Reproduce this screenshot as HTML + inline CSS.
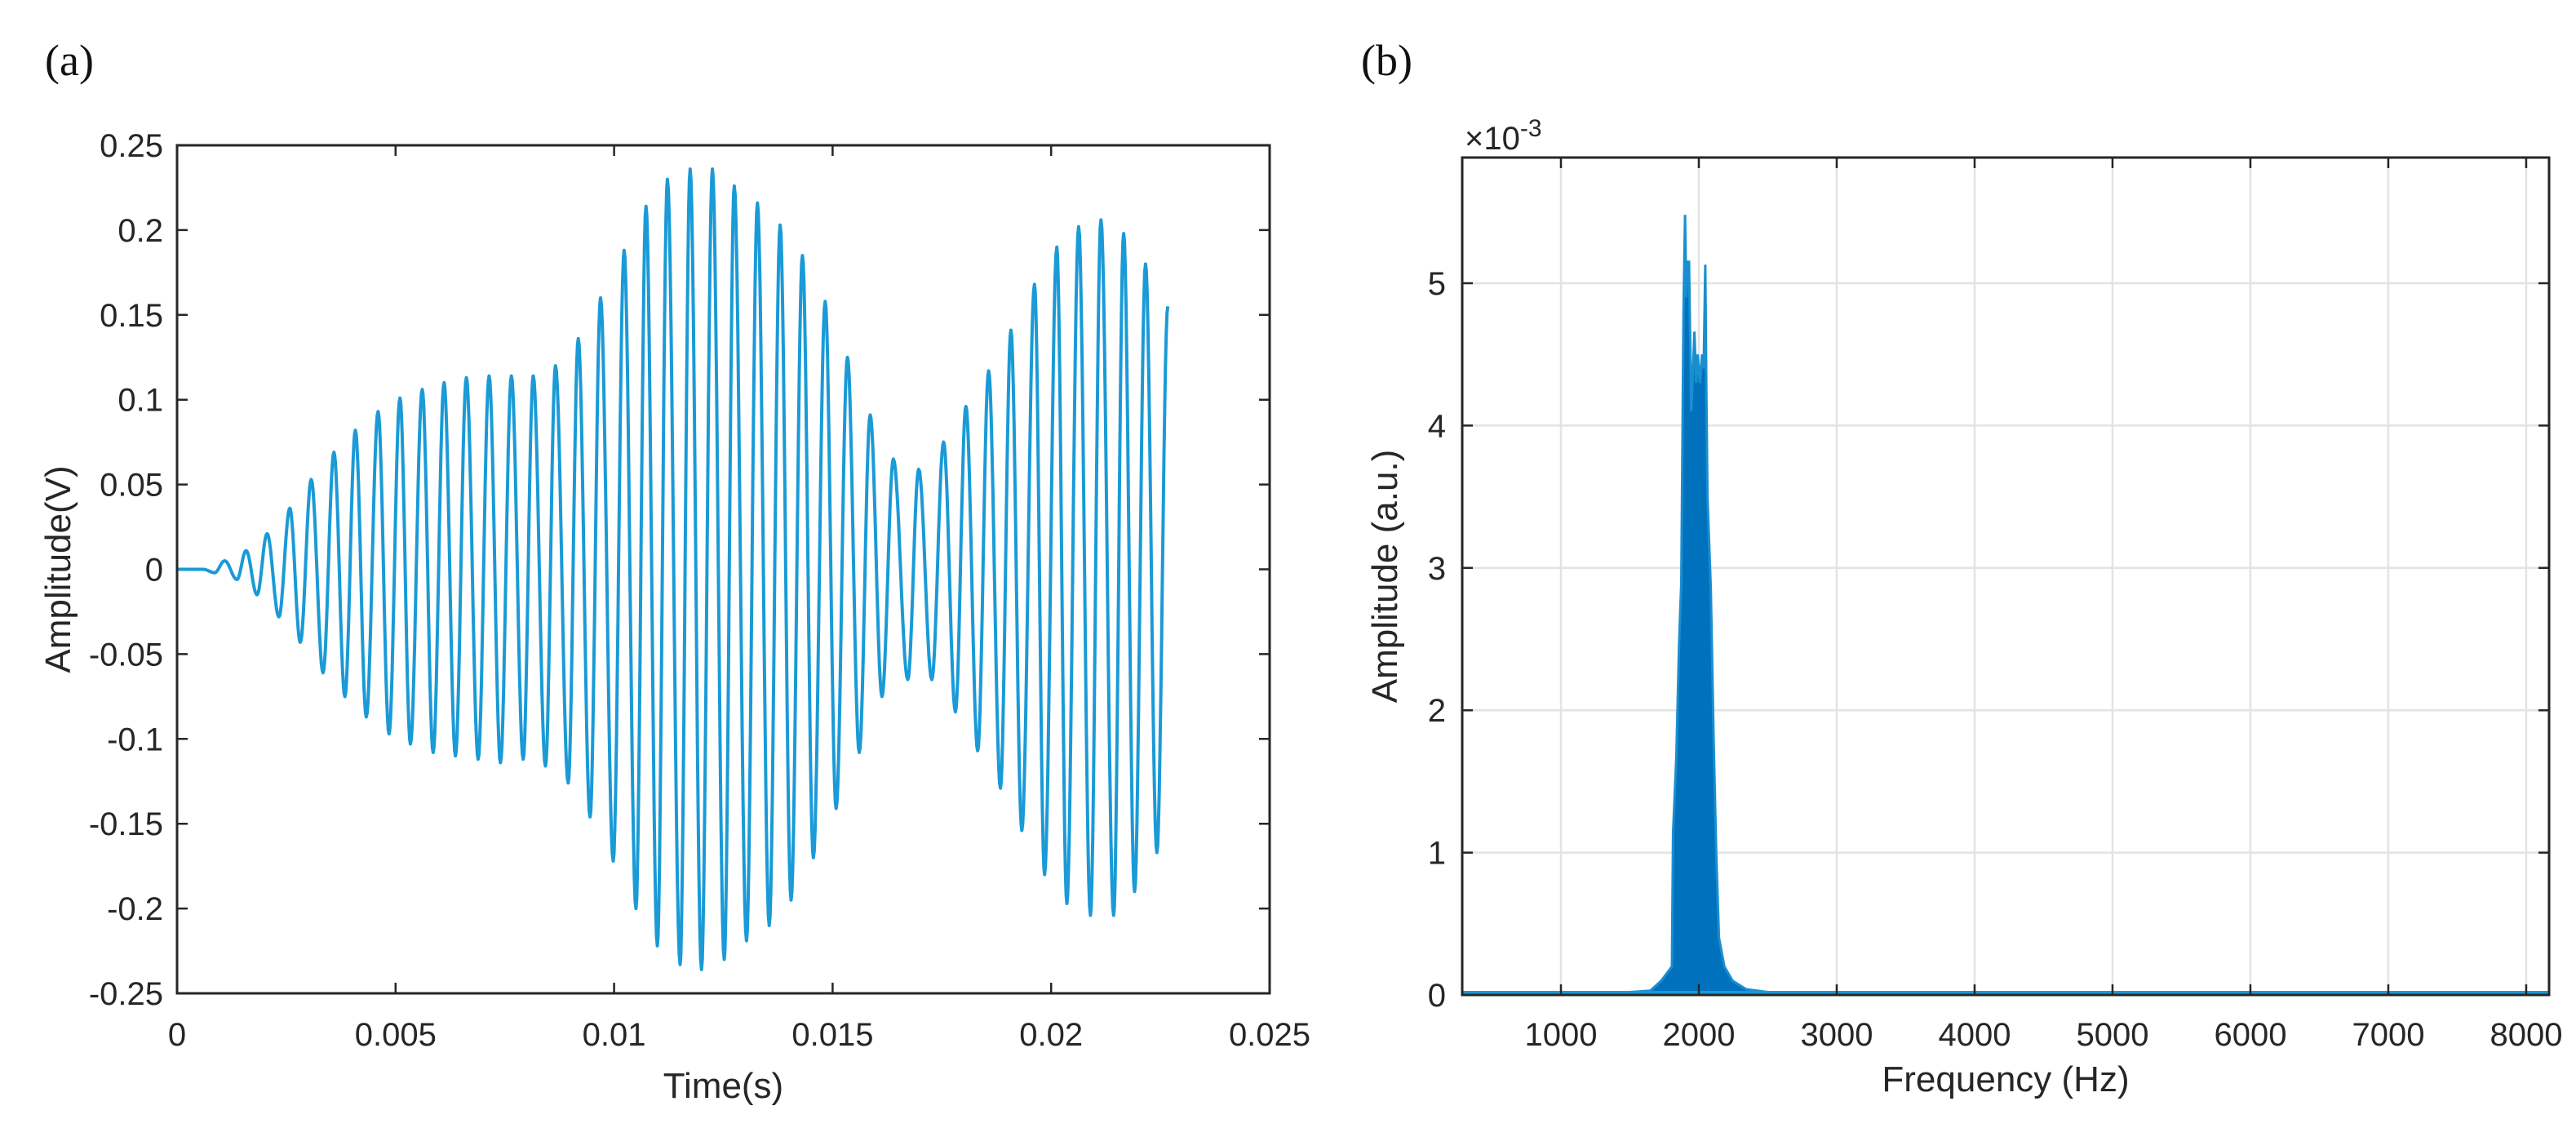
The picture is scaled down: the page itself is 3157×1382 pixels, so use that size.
<!DOCTYPE html>
<html><head><meta charset="utf-8"><style>
html,body{margin:0;padding:0;background:#fff;}
svg{display:block;}
text{font-family:"Liberation Sans",Arial,sans-serif;fill:#262626;}
</style></head><body>
<svg id="fig" width="3157" height="1382" viewBox="0 0 3157 1382" xmlns="http://www.w3.org/2000/svg">
<rect width="3157" height="1382" fill="#fff"/>
<text x="55" y="92" style="font-family:'Liberation Serif',serif;font-size:54px;fill:#111">(a)</text>
<text x="1668" y="92" style="font-family:'Liberation Serif',serif;font-size:54px;fill:#111">(b)</text>
<g id="pa"></g>
<g id="pb"></g>
</svg>
<script>
// ---- Panel (a) data ----
const aXTicks = [0, 0.005, 0.01, 0.015, 0.02, 0.025];
const aXTickLabels = ["0", "0.005", "0.01", "0.015", "0.02", "0.025"];
const aYTicks = [-0.25, -0.2, -0.15, -0.1, -0.05, 0, 0.05, 0.1, 0.15, 0.2, 0.25];
const aYTickLabels = ["-0.25", "-0.2", "-0.15", "-0.1", "-0.05", "0", "0.05", "0.1", "0.15", "0.2", "0.25"];
const peakTimes = [0.00109,0.00158,0.00206,0.00258,0.00307,0.00359,0.00408,0.00460,0.00510,0.00561,0.00611,0.00662,0.00714,0.00765,0.00815,0.00866,0.00918,0.00969,0.01023,0.01073,0.01122,0.01174,0.01225,0.01275,0.01328,0.01380,0.01431,0.01483,0.01534,0.01586,0.01639,0.01697,0.01754,0.01805,0.01857,0.01908,0.01962,0.02013,0.02063,0.02114,0.02166,0.02216,0.02267];
const peakValues = [0.005,0.011,0.021,0.036,0.053,0.069,0.082,0.093,0.101,0.106,0.110,0.113,0.114,0.114,0.114,0.120,0.136,0.160,0.188,0.214,0.230,0.236,0.236,0.226,0.216,0.203,0.185,0.158,0.125,0.091,0.065,0.059,0.075,0.096,0.117,0.141,0.168,0.190,0.202,0.206,0.198,0.180,0.155];
const troughTimes = [0.00086,0.00137,0.00183,0.00233,0.00282,0.00334,0.00384,0.00433,0.00485,0.00534,0.00586,0.00637,0.00689,0.00740,0.00792,0.00843,0.00895,0.00945,0.00998,0.01050,0.01099,0.01151,0.01200,0.01252,0.01303,0.01355,0.01405,0.01456,0.01508,0.01561,0.01613,0.01672,0.01727,0.01781,0.01832,0.01884,0.01933,0.01985,0.02036,0.02090,0.02143,0.02191,0.02242];
const troughValues = [-0.002,-0.006,-0.015,-0.028,-0.043,-0.061,-0.075,-0.087,-0.097,-0.103,-0.108,-0.110,-0.112,-0.114,-0.112,-0.116,-0.126,-0.146,-0.172,-0.200,-0.222,-0.233,-0.236,-0.230,-0.219,-0.210,-0.195,-0.170,-0.141,-0.108,-0.075,-0.065,-0.065,-0.084,-0.107,-0.129,-0.154,-0.180,-0.197,-0.204,-0.204,-0.190,-0.167];
const leadTimes = [0, 0.0006];
const leadValues = [0, 0];

// ---- Panel (b) data ----
const bXTicks = [1000,2000,3000,4000,5000,6000,7000,8000];
const bXTickLabels = ["1000","2000","3000","4000","5000","6000","7000","8000"];
const bYTicks = [0,1,2,3,4,5];
const bYTickLabels = ["0","1","2","3","4","5"];
const specFreqs = [284,1500,1648,1727,1805,1813,1837,1857,1873,1889,1900,1909,1918,1929,1945,1968,1980,1992,2008,2024,2035,2047,2055,2063,2087,2107,2126,2146,2185,2245,2343,2500,2800,8166];
const specAmps  = [0.02,0.02,0.03,0.1,0.2,1.14,1.67,2.47,2.9,4.8,5.48,4.9,5.15,5.15,4.1,4.66,4.3,4.5,4.3,4.5,4.4,5.13,4.2,3.5,2.85,1.8,1.0,0.4,0.2,0.1,0.04,0.02,0.02,0.02];

const NS = "http://www.w3.org/2000/svg";
function mk(parent, tag, attrs, txt){
  const e = document.createElementNS(NS, tag);
  for (const k in attrs) e.setAttribute(k, attrs[k]);
  if (txt !== undefined) e.textContent = txt;
  parent.appendChild(e);
  return e;
}

// ---------- Panel A ----------
(function(){
  const g = document.getElementById('pa');
  const L=217, R=1556, T=178, B=1217;
  const x0=0, x1=0.025, y0=-0.25, y1=0.25;
  const sx = v => L + (v-x0)/(x1-x0)*(R-L);
  const sy = v => B - (v-y0)/(y1-y0)*(B-T);
  // ticks
  aXTicks.forEach((v,i)=>{
    const t = mk(g,'path',{d:`M${sx(v)},${B}v-13M${sx(v)},${T}v13`,stroke:'#262626','stroke-width':2.5});
    
    
    const l = mk(g,'text',{x:sx(v),y:1281,'text-anchor':'middle','font-size':40},aXTickLabels[i]);
    
    
  });
  aYTicks.forEach((v,i)=>{
    const t = mk(g,'path',{d:`M${L},${sy(v)}h13M${R},${sy(v)}h-13`,stroke:'#262626','stroke-width':2.5});
    
    
    const l = mk(g,'text',{x:200,y:sy(v)+14,'text-anchor':'end','font-size':40},aYTickLabels[i]);
    
    
  });
  // waveform
  const ext = [];
  for (let i=0;i<leadTimes.length;i++) ext.push([leadTimes[i],leadValues[i]]);
  for (let i=0;i<peakTimes.length;i++) ext.push([peakTimes[i],peakValues[i]]);
  for (let i=0;i<troughTimes.length;i++) ext.push([troughTimes[i],troughValues[i]]);
  ext.sort((a,b)=>a[0]-b[0]);
  let d = `M${sx(ext[0][0])},${sy(ext[0][1])}`;
  for (let i=1;i<ext.length;i++){
    const [ta,va]=ext[i-1],[tb,vb]=ext[i];
    for (let k=1;k<=14;k++){
      const u=k/14, t=ta+(tb-ta)*u;
      const v=(va+vb)/2+(va-vb)/2*Math.cos(Math.PI*u);
      d += `L${sx(t).toFixed(1)},${sy(v).toFixed(1)}`;
    }
  }
  const line = mk(g,'path',{d:d,fill:'none',stroke:'#1a9ad6','stroke-width':4,'stroke-linejoin':'round'});
  
  
  const box = mk(g,'rect',{x:L,y:T,width:R-L,height:B-T,fill:'none',stroke:'#262626','stroke-width':3});
  
  
  const xt = mk(g,'text',{x:(L+R)/2,y:1345,'text-anchor':'middle','font-size':44},'Time(s)');
  
  
  const yt = mk(g,'text',{x:0,y:0,'text-anchor':'middle','font-size':44,transform:`translate(86,${(T+B)/2}) rotate(-90)`},'Amplitude(V)');
  
  
})();

// ---------- Panel B ----------
(function(){
  const g = document.getElementById('pb');
  const L=1792, R=3124, T=193, B=1219;
  const x0=284, x1=8166, y0=0, y1=5.883;
  const sx = v => L + (v-x0)/(x1-x0)*(R-L);
  const sy = v => B - (v-y0)/(y1-y0)*(B-T);
  bXTicks.forEach((v,i)=>{
    const gl = mk(g,'line',{x1:sx(v),x2:sx(v),y1:T,y2:B,stroke:'#e3e3e3','stroke-width':2.5});
    
    
  });
  bYTicks.forEach((v,i)=>{
    const gl = mk(g,'line',{x1:L,x2:R,y1:sy(v),y2:sy(v),stroke:'#e3e3e3','stroke-width':2.5});
    
    
  });
  // spectrum area
  let d = `M${sx(specFreqs[0])},${sy(0)}`;
  for (let i=0;i<specFreqs.length;i++) d += `L${sx(specFreqs[i]).toFixed(1)},${sy(specAmps[i]).toFixed(1)}`;
  d += `L${sx(specFreqs[specFreqs.length-1])},${sy(0)}Z`;
  const area = mk(g,'path',{d:d,fill:'#0072bd',stroke:'#1a8fd0','stroke-width':3});
  
  
  const base = mk(g,'line',{x1:L,x2:R,y1:sy(0)-3,y2:sy(0)-3,stroke:'#1a9ad6','stroke-width':4});
  
  
  bXTicks.forEach((v,i)=>{
    const t = mk(g,'path',{d:`M${sx(v)},${B}v-13M${sx(v)},${T}v13`,stroke:'#262626','stroke-width':2.5});
    
    
    const l = mk(g,'text',{x:sx(v),y:1281,'text-anchor':'middle','font-size':40},bXTickLabels[i]);
    
    
  });
  bYTicks.forEach((v,i)=>{
    const t = mk(g,'path',{d:`M${L},${sy(v)}h13M${R},${sy(v)}h-13`,stroke:'#262626','stroke-width':2.5});
    
    
    const l = mk(g,'text',{x:1772,y:sy(v)+14,'text-anchor':'end','font-size':40},bYTickLabels[i]);
    
    
  });
  const box = mk(g,'rect',{x:L,y:T,width:R-L,height:B-T,fill:'none',stroke:'#262626','stroke-width':3});
  
  
  const ex = mk(g,'text',{x:1795,y:183,'font-size':40,fill:'#555'});
  
  
  ex.innerHTML = '×10<tspan dy="-16" font-size="30">-3</tspan>';
  const xt = mk(g,'text',{x:(L+R)/2,y:1337,'text-anchor':'middle','font-size':44},'Frequency (Hz)');
  
  
  const yt = mk(g,'text',{x:0,y:0,'text-anchor':'middle','font-size':44,transform:`translate(1712,${(T+B)/2}) rotate(-90)`},'Amplitude (a.u.)');
  
  
})();
</script>
</body></html>
